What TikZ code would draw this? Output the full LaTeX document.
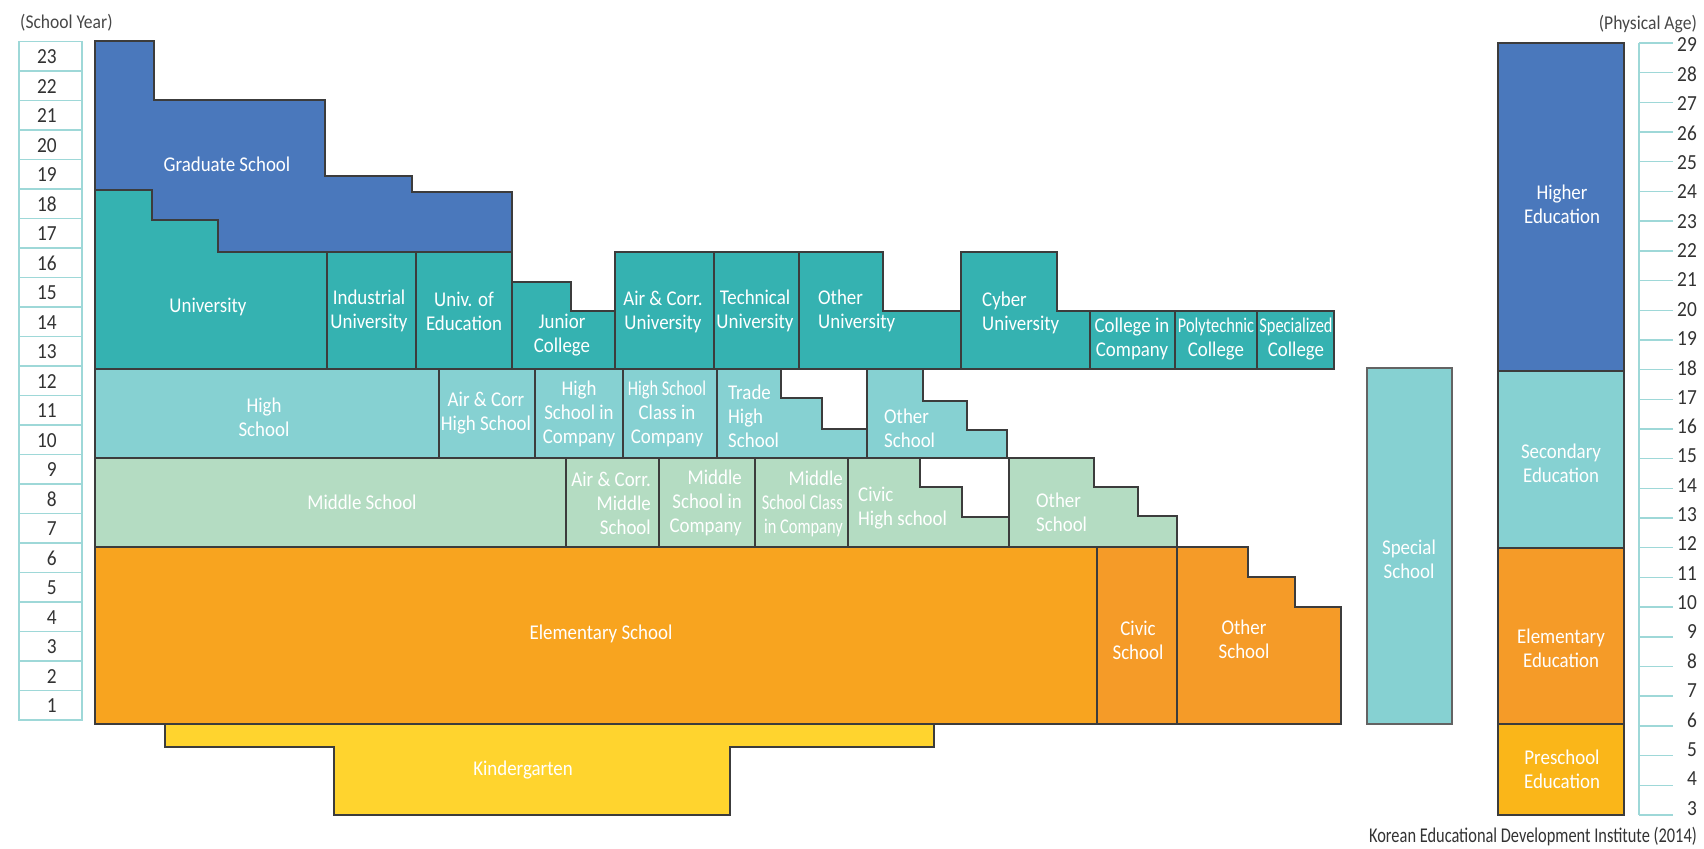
\documentclass[tikz,border=0pt]{standalone}
\usepackage{fontspec}
\usepackage{tikz}
\newfontfamily\lblfont[FakeStretch=0.9]{Carlito}
\newfontfamily\narrowfont[FakeStretch=0.78]{Carlito}
\definecolor{gradblue}{HTML}{4A78BC}
\definecolor{uniteal}{HTML}{35B2B1}
\definecolor{highteal}{HTML}{86D1D2}
\definecolor{midgreen}{HTML}{B4DCC2}
\definecolor{elemorange}{HTML}{F8A41F}
\definecolor{otherorange}{HTML}{F59B28}
\definecolor{kinderyellow}{HTML}{FFD42E}
\definecolor{preschyellow}{HTML}{FAB619}
\definecolor{edgegray}{HTML}{3C3C3C}
\definecolor{gridteal}{HTML}{9ED8D8}
\definecolor{numgray}{HTML}{333333}
\tikzset{
	blk/.style={draw=edgegray, line width=1.1pt},
	lbl/.style={text=white, font=\lblfont\fontsize{21}{24}\selectfont, align=center, inner sep=0pt},
	yearbox/.style={draw=gridteal, line width=1.4pt, fill=white},
	agescale/.style={draw=gridteal, line width=1.4pt},
	numtext/.style={text=numgray, font=\lblfont\fontsize{21.5}{23}\selectfont, inner sep=0pt},
	smalltext/.style={text=numgray!90, font=\lblfont\fontsize{19.5}{21}\selectfont, inner sep=0pt}
}

\begin{document}
\begin{tikzpicture}[x=1pt, y=-1pt]
		%%%%% START %%%%%
		\useasboundingbox (0,0) rectangle (1704,848);
		
		% school year column
		\node[smalltext, anchor=west] (yearhead) at (20,23) {(School Year)};
		\foreach \yr [evaluate=\yr as \ytop using {41.5+(23-\yr)*29.5}] in {1,...,23} {
			\draw[yearbox] (19,\ytop) rectangle (82,\ytop+29.5);
			\node[numtext, anchor=east] (yr\yr) at (57,\ytop+15.5) {\yr};
		}
		
		% higher education
		\draw[blk, fill=gradblue] (95,41) -- (154,41) -- (154,100) -- (325,100) -- (325,176) -- (412,176) -- (412,192) -- (512,192) -- (512,252) -- (218,252) -- (218,220) -- (152,220) -- (152,190) -- (95,190) -- cycle;
		\draw[blk, fill=uniteal] (95,190) -- (152,190) -- (152,220) -- (218,220) -- (218,252) -- (327,252) -- (327,369) -- (95,369) -- cycle;
		\draw[blk, fill=uniteal] (327,252) rectangle (416,369);
		\draw[blk, fill=uniteal] (416,252) rectangle (512,369);
		\draw[blk, fill=uniteal] (512,282) -- (571,282) -- (571,311) -- (615,311) -- (615,369) -- (512,369) -- cycle;
		\draw[blk, fill=uniteal] (615,252) rectangle (714,369);
		\draw[blk, fill=uniteal] (714,252) rectangle (799,369);
		\draw[blk, fill=uniteal] (799,252) -- (883,252) -- (883,311) -- (961,311) -- (961,369) -- (799,369) -- cycle;
		\draw[blk, fill=uniteal] (961,252) -- (1057,252) -- (1057,311) -- (1090,311) -- (1090,369) -- (961,369) -- cycle;
		\draw[blk, fill=uniteal] (1090,311) rectangle (1175,369);
		\draw[blk, fill=uniteal] (1175,311) rectangle (1257,369);
		\draw[blk, fill=uniteal] (1257,311) rectangle (1334,369);
		
		% high school row
		\draw[blk, fill=highteal] (95,369) rectangle (439,458);
		\draw[blk, fill=highteal] (439,369) rectangle (535,458);
		\draw[blk, fill=highteal] (535,369) rectangle (623,458);
		\draw[blk, fill=highteal] (623,369) rectangle (717,458);
		\draw[blk, fill=highteal] (717,369) -- (781,369) -- (781,398) -- (822,398) -- (822,429) -- (867,429) -- (867,458) -- (717,458) -- cycle;
		\draw[blk, fill=highteal] (867,369) -- (923,369) -- (923,401) -- (967,401) -- (967,430) -- (1007,430) -- (1007,458) -- (867,458) -- cycle;
		
		% middle school row
		\draw[blk, fill=midgreen] (95,458) rectangle (566,547);
		\draw[blk, fill=midgreen] (566,458) rectangle (659,547);
		\draw[blk, fill=midgreen] (659,458) rectangle (755,547);
		\draw[blk, fill=midgreen] (755,458) rectangle (848,547);
		\draw[blk, fill=midgreen] (848,458) -- (920,458) -- (920,487) -- (962,487) -- (962,517) -- (1009,517) -- (1009,547) -- (848,547) -- cycle;
		\draw[blk, fill=midgreen] (1009,458) -- (1094,458) -- (1094,487) -- (1138,487) -- (1138,516) -- (1177,516) -- (1177,547) -- (1009,547) -- cycle;
		
		% elementary row
		\draw[blk, fill=elemorange] (95,547) rectangle (1097,724);
		\draw[blk, fill=otherorange] (1097,547) rectangle (1177,724);
		\draw[blk, fill=otherorange] (1177,547) -- (1248,547) -- (1248,577) -- (1295,577) -- (1295,607) -- (1341,607) -- (1341,724) -- (1177,724) -- cycle;
		
		% kindergarten
		\draw[blk, fill=kinderyellow] (165,724) -- (934,724) -- (934,747) -- (730,747) -- (730,815) -- (334,815) -- (334,747) -- (165,747) -- cycle;
		
		% special school
		\draw[blk, draw=edgegray!80, fill=highteal] (1367,368) rectangle (1452,724);
		
		% stages column
		\draw[blk, fill=gradblue] (1498,43) rectangle (1624,371);
		\draw[blk, fill=highteal] (1498,371) rectangle (1624,548);
		\draw[blk, fill=otherorange] (1498,548) rectangle (1624,724);
		\draw[blk, fill=preschyellow] (1498,724) rectangle (1624,815);
		
		% physical age scale
		\node[smalltext, anchor=east] (agehead) at (1697,24) {(Physical Age)};
		\draw[agescale] (1639,43) -- (1639,815);
		\foreach \ag [evaluate=\ag as \ty using {43+(29-\ag)*29.69}, evaluate=\ag as \ny using {45+(29-\ag)*29.35}] in {3,...,29} {
			\draw[agescale] (1639,\ty) -- (1673,\ty);
			\node[numtext, anchor=east] (age\ag) at (1697,\ny) {\ag};
		}
		
		% labels
		\node[lbl] (grad) at (227,164) {Graduate School};
		\node[lbl] (univ) at (208,307) {University};
		\node[lbl] (induni) at (369,311) {Industrial\\University};
		\node[lbl] (unived) at (464,311) {Univ. of\\Education};
		\node[lbl] (junior) at (562,335) {Junior\\College};
		\node[lbl] (aircorruni) at (663,312) {Air \& Corr.\\University};
		\node[lbl] (techuni) at (755,311) {Technical\\University};
		\node[lbl, anchor=west, align=left] (otheruni) at (818,311) {Other\\University};
		\node[lbl, anchor=west, align=left] (cyberuni) at (982,313) {Cyber\\University};
		\node[lbl] (colcomp) at (1132,339) {College in\\Company};
		\node[lbl] (polycol) at (1216,339) {{\narrowfont Polytechnic}\\College};
		\node[lbl] (speccol) at (1296,339) {{\narrowfont Specialized}\\College};
		
		\node[lbl] (highs) at (264,417) {High\\School};
		\node[lbl] (aircorrhigh) at (486,413) {Air \& Corr\\High School};
		\node[lbl] (hscomp) at (579,414) {High\\School in\\Company};
		\node[lbl] (hsclass) at (667,414) {{\narrowfont High School}\\Class in\\Company};
		\node[lbl, anchor=west, align=left] (tradehigh) at (728,416) {Trade\\High\\School};
		\node[lbl, anchor=west, align=left] (otherhigh) at (884,428) {Other\\School};
		
		\node[lbl] (middles) at (362,502) {Middle School};
		\node[lbl, anchor=east, align=right] (aircorrmid) at (651,503) {Air \& Corr.\\Middle\\School};
		\node[lbl, anchor=east, align=right] (mscomp) at (742,503) {Middle\\School in\\Company};
		\node[lbl, anchor=east, align=right] (msclass) at (843,504) {Middle\\{\narrowfont School Class}\\{\narrowfont in Company}};
		\node[lbl, anchor=west, align=left] (civichigh) at (858,508) {Civic\\High school};
		\node[lbl, anchor=west, align=left] (othermid) at (1036,512) {Other\\School};
		
		\node[lbl] (elems) at (601,634) {Elementary School};
		\node[lbl] (civics) at (1138,640) {Civic\\School};
		\node[lbl] (otherelem) at (1244,639) {Other\\School};
		\node[lbl] (special) at (1409,559) {Special\\School};
		\node[lbl] (kinder) at (523,770) {Kindergarten};
		
		\node[lbl] (higher) at (1562,204) {Higher\\Education};
		\node[lbl] (secondary) at (1561,463) {Secondary\\Education};
		\node[lbl] (elemed) at (1561,648) {Elementary\\Education};
		\node[lbl] (presch) at (1562,769) {Preschool\\Education};
		
		\node[text=numgray, font=\narrowfont\fontsize{21}{24}\selectfont, inner sep=0pt, anchor=east] (source) at (1697,837) {Korean Educational Development Institute (2014)};
		%%%%% END %%%%%
\end{tikzpicture}
\end{document}
